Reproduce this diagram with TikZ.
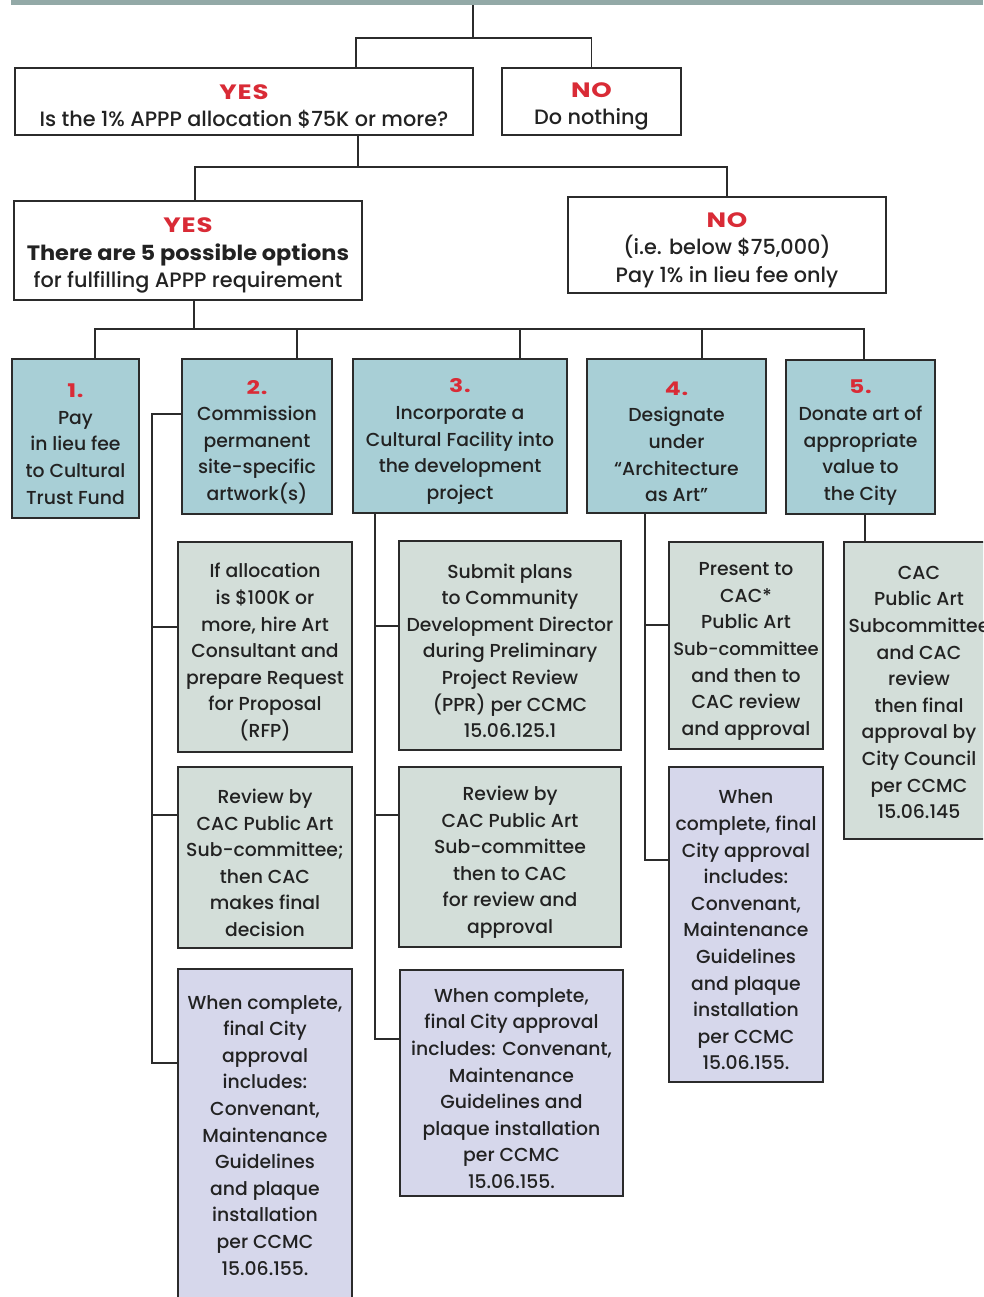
\documentclass[tikz,border=0pt]{standalone}
\usepackage{fontspec}
\setmainfont{Poppins}[UprightFont=* Medium, BoldFont=* Bold]
\definecolor{barc}{HTML}{93A9A7}
\definecolor{linec}{HTML}{2B2B2B}
\definecolor{bluec}{HTML}{A8CFD6}
\definecolor{greyc}{HTML}{D3DED9}
\definecolor{purpc}{HTML}{D6D7EB}
\definecolor{redc}{HTML}{D92B36}
\definecolor{textc}{HTML}{222222}
\newcommand{\rd}[1]{{\color{redc}\bfseries\addfontfeature{FakeStretch=1.25,LetterSpace=4}#1}}
\newcommand{\bld}[1]{{\bfseries\addfontfeature{FakeStretch=1.08}#1}}
\newcommand{\tgt}[1]{{\fontsize{18}{26.6}\selectfont #1}}
\newcommand{\tp}{\rule{0pt}{25pt}}
\begin{document}
\begin{tikzpicture}[x=1pt,y=-1pt,
  box/.style={draw=linec, line width=1.4pt, align=center, inner sep=0pt,
    text=textc, font={\fontsize{18.8}{26.6}\selectfont}},
  topbox/.style={box, fill=white, font={\fontsize{20.8}{27.5}\selectfont}},
  obox/.style={box, fill=bluec},
  gbox/.style={box, fill=greyc},
  pbox/.style={box, fill=purpc},
  conn/.style={draw=linec, line width=1.4pt}]
\useasboundingbox (0,0) rectangle (983,1297);
\begin{scope}
\clip (0,0) rectangle (983,1297);
% top bar
\node[fill=barc, minimum width=972pt, minimum height=5pt, inner sep=0pt, anchor=north west] (topbar) at (11,0) {};
% level 1
\node[topbox, minimum width=458pt, minimum height=67pt] (yes1) at (244,101.5) {\tp\rd{YES}\\Is the 1\% APPP allocation \$75K or more?};
\node[topbox, minimum width=179pt, minimum height=67pt] (no1) at (591.5,101.5) {\tp\rd{NO}\\Do nothing};
% level 2
\node[topbox, minimum width=348pt, minimum height=99pt] (yes2) at (188,250.5) {\tp\rd{YES}\\\bld{There are 5 possible options}\\for fulfilling APPP requirement};
\node[topbox, minimum width=318pt, minimum height=96pt] (no2) at (727,245) {\tp\rd{NO}\\(i.e. below \$75,000)\\Pay 1\% in lieu fee only};
% options
\node[obox, minimum width=127pt, minimum height=159pt] (o1) at (75.5,438.5) {\tp\rd{1.}\\Pay\\in lieu fee\\to Cultural\\Trust Fund};
\node[obox, minimum width=150pt, minimum height=155pt] (o2) at (257,436.5) {\tp\rd{2.}\\Commission\\permanent\\site-specific\\artwork(s)};
\node[obox, minimum width=214pt, minimum height=154pt] (o3) at (460,436) {\tp\rd{3.}\\Incorporate a\\Cultural Facility into\\the development\\project};
\node[obox, minimum width=179pt, minimum height=154pt] (o4) at (676.5,436) {\tp\rd{4.}\\Designate\\under\\“Architecture\\as Art”};
\node[obox, minimum width=149pt, minimum height=154pt] (o5) at (860.5,437) {\tp\rd{5.}\\Donate art of\\appropriate\\value to\\the City};
% column 2
\node[gbox, minimum width=174pt, minimum height=210pt] (a2) at (265,647) {\tp If allocation\\is \$100K or\\more, hire Art\\Consultant and\\prepare Request\\for Proposal\\(RFP)};
\node[gbox, minimum width=174pt, minimum height=181pt] (b2) at (265,857.5) {\tp Review by\\CAC Public Art\\Sub-committee;\\then CAC\\makes final\\decision};
\node[pbox, minimum width=174pt, minimum height=345pt] (c2) at (265,1141.5) {\tp When complete,\\final City\\approval\\includes:\\Convenant,\\Maintenance\\Guidelines\\and plaque\\installation\\per CCMC\\15.06.155.\rule[-24pt]{0pt}{24pt}};
% column 3
\node[gbox, minimum width=222pt, minimum height=209pt] (a3) at (510,645.5) {\tp Submit plans\\to Community\\Development Director\\during Preliminary\\Project Review\\(PPR) per CCMC\\15.06.125.1};
\node[gbox, minimum width=222pt, minimum height=180pt] (b3) at (510,857) {\tp Review by\\CAC Public Art\\Sub-committee\\then to CAC\\for review and\\approval};
\node[pbox, minimum width=223pt, minimum height=226pt] (c3) at (511.5,1083) {\tp When complete,\\final City approval\\includes: Convenant,\\Maintenance\\Guidelines and\\plaque installation\\per CCMC\\15.06.155.};
% column 4
\node[gbox, minimum width=154pt, minimum height=207pt] (a4) at (746,645.5) {\tp Present to\\CAC*\\Public Art\\\tgt{Sub-committee}\\and then to\\CAC review\\and approval};
\node[pbox, minimum width=154pt, minimum height=315pt] (b4) at (746,924.5) {\tp When\\complete, final\\City approval\\includes:\\Convenant,\\Maintenance\\Guidelines\\and plaque\\installation\\per CCMC\\15.06.155.};
% column 5
\node[gbox, minimum width=150pt, minimum height=297pt] (a5) at (919,690.5) {\rule{0pt}{17pt}CAC\\Public Art\\Subcommittee\\and CAC\\review\\then final\\approval by\\City Council\\per CCMC\\15.06.145};
% junction coordinates
\coordinate (j1) at (473,38);
\coordinate (j1L) at (356,38);
\coordinate (j2) at (358,167);
\coordinate (j2L) at (195,167);
\coordinate (j3) at (194,329);
\coordinate (d1) at (95,329);
\coordinate (d2) at (297,329);
\coordinate (d3) at (520,329);
\coordinate (d4) at (702,329);
\coordinate (d5) at (864,329);
\coordinate (s2) at (152,414);
\coordinate (s3) at (375,414);
\coordinate (s4) at (645,414);
\coordinate (s5) at (865,414);
% connectors level 1
\draw[conn] (topbar.south -| j1) -- (j1);
\draw[conn] (yes1.north -| j1L) -- (j1L) -- (j1 -| no1.north) -- (no1.north);
% level 2
\draw[conn] (yes1.south -| j2) -- (j2);
\draw[conn] (yes2.north -| j2L) -- (j2L) -- (j2 -| no2.north) -- (no2.north);
% level 3
\draw[conn] (yes2.south -| j3) -- (j3);
\draw[conn] (o1.north -| d1) -- (d1) -- (d5) -- (o5.north -| d5);
\draw[conn] (d2) -- (o2.north -| d2);
\draw[conn] (d3) -- (o3.north -| d3);
\draw[conn] (d4) -- (o4.north -| d4);
% column 2 branch
\draw[conn] (o2.west |- s2) -- (s2) |- (c2.west |- 0,1063);
\draw[conn] (s2 |- 0,627) -- (a2.west |- 0,627);
\draw[conn] (s2 |- 0,815) -- (b2.west |- 0,815);
% column 3 branch
\draw[conn] (o3.south -| s3) |- (c3.west |- 0,1039);
\draw[conn] (s3 |- 0,626) -- (a3.west |- 0,626);
\draw[conn] (s3 |- 0,815) -- (b3.west |- 0,815);
% column 4 branch
\draw[conn] (o4.south -| s4) |- (b4.west |- 0,860);
\draw[conn] (s4 |- 0,625) -- (a4.west |- 0,625);
% column 5
\draw[conn] (o5.south -| s5) -- (a5.north -| s5);
\end{scope}
\end{tikzpicture}
\end{document}
